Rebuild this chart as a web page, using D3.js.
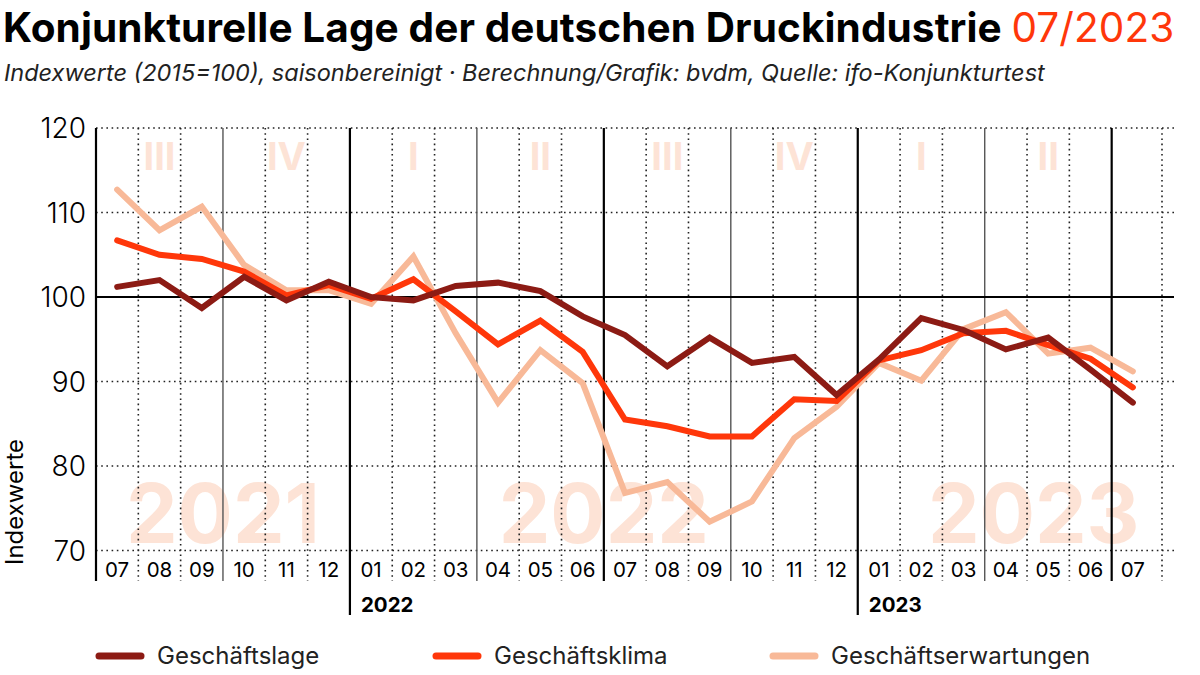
<!DOCTYPE html>
<html>
<head>
<meta charset="utf-8">
<style>
body { margin: 0; background: #fff; }
svg text { font-family: Inter, "Noto Sans", sans-serif; }
</style>
<script src="https://cdn.jsdelivr.net/npm/d3@7"></script>
</head>
<body>
<script>
// months 07/2021 .. 07/2023
var months = ["07","08","09","10","11","12","01","02","03","04","05","06","07","08","09","10","11","12","01","02","03","04","05","06","07"];
var lage       = [101.2,102.0,98.7,102.4,99.6,101.8,100.0,99.6,101.3,101.7,100.7,97.7,95.5,91.8,95.2,92.2,92.9,88.4,92.6,97.5,96.1,93.8,95.2,91.4,87.5];
var klima      = [106.7,105.0,104.5,103.0,100.2,101.4,99.8,102.1,98.3,94.4,97.2,93.5,85.5,84.7,83.5,83.5,87.9,87.7,92.5,93.7,95.7,96.0,94.3,92.7,89.3];
var erwartung  = [112.7,107.9,110.7,103.8,100.8,100.8,99.2,104.8,95.7,87.5,93.7,89.8,76.8,78.1,73.4,75.8,83.3,87.0,92.2,90.1,96.2,98.2,93.3,94.0,91.2];
var yTicks = [70, 80, 90, 100, 110, 120];
var quarterLabels = ["III","IV","I","II","III","IV","I","II"];
var yearMarks = [{label:"2022", start:6}, {label:"2023", start:18}];
var watermarks = [{label:"2021", from:0, to:6}, {label:"2022", from:6, to:18}, {label:"2023", from:18, to:26}];

var series = [
  {name:"Geschäftslage", values:lage, color:"#8c1b14"},
  {name:"Geschäftsklima", values:klima, color:"#ff370a"},
  {name:"Geschäftserwartungen", values:erwartung, color:"#f8b998"}
];

var width = 1200, height = 675;
var pLeft = 96, pRight = 1154, pTop = 128, pBottom = 550.5;

var svg = d3.select("body").append("svg")
  .attr("width", width)
  .attr("height", height);

// month slot scale, boundaries 0..25
var x = d3.scaleLinear().domain([0, months.length]).range([pLeft, pRight]);
var y = d3.scaleLinear().domain([70, 120]).range([pBottom, pTop]);
var gridRight = pRight + 20;
var vBottom = 581;

// title
var title = svg.append("text").attr("x", 3).attr("y", 42)
  .style("font-size", "40.5px").style("letter-spacing", "0.1px");
title.append("tspan").style("font-weight", "700").attr("fill", "#000")
  .text("Konjunkturelle Lage der deutschen Druckindustrie ");
title.append("tspan").style("font-weight", "400").attr("fill", "#ff370a").text("07/2023");

svg.append("text").attr("x", 4).attr("y", 81)
  .style("font-size", "23.5px").style("font-style", "italic").attr("fill", "#222")
  .text("Indexwerte (2015=100), saisonbereinigt · Berechnung/Grafik: bvdm, Quelle: ifo-Konjunkturtest");

// watermarks
svg.append("g").selectAll("text").data(watermarks).enter().append("text")
  .attr("x", function(d) { return d.label == "2023" ? x(d.from) + 176 : (x(d.from) + x(d.to)) / 2; })
  .attr("y", 543)
  .attr("text-anchor", "middle")
  .style("font-size", "82px").style("font-weight", "700")
  .attr("fill", "#fde3d6")
  .text(function(d) { return d.label; });

// quarter labels
svg.append("g").selectAll("text").data(quarterLabels).enter().append("text")
  .attr("x", function(d, i) { return x(i * 3 + 1.5); })
  .attr("y", 170)
  .attr("text-anchor", "middle")
  .style("font-size", "38px").style("font-weight", "700")
  .attr("fill", "#fde3d6")
  .text(function(d) { return d; });

// horizontal grid
svg.append("g").selectAll("line").data(yTicks.filter(function(t) { return t != 100; })).enter().append("line")
  .attr("x1", pLeft).attr("x2", gridRight)
  .attr("y1", function(d) { return y(d); }).attr("y2", function(d) { return y(d); })
  .attr("stroke", "#222").attr("stroke-width", 1.6).attr("stroke-dasharray", "1.6,3.6");

// vertical month lines
var bounds = d3.range(1, months.length);
svg.append("g").selectAll("line").data(bounds).enter().append("line")
  .attr("x1", function(d) { return x(d); }).attr("x2", function(d) { return x(d); })
  .attr("y1", pTop)
  .attr("y2", function(d) { return d % 12 == 6 ? 615 : vBottom; })
  .attr("stroke", function(d) { return d % 6 == 0 ? "#000" : (d % 3 == 0 ? "#555" : "#222"); })
  .attr("stroke-width", function(d) { return d % 6 == 0 ? 2.2 : (d % 3 == 0 ? 1.4 : 1.6); })
  .attr("stroke-dasharray", function(d) { return d % 3 == 0 ? null : "1.6,3.6"; });

// closing dotted line on the right
svg.append("line")
  .attr("x1", pRight + 8).attr("x2", pRight + 8)
  .attr("y1", pTop).attr("y2", vBottom)
  .attr("stroke", "#222").attr("stroke-width", 1.6).attr("stroke-dasharray", "1.6,3.6");

// 100 line and left axis
svg.append("line").attr("x1", pLeft).attr("x2", gridRight)
  .attr("y1", y(100)).attr("y2", y(100))
  .attr("stroke", "#000").attr("stroke-width", 2);
svg.append("line").attr("x1", pLeft).attr("x2", pLeft)
  .attr("y1", pTop).attr("y2", vBottom)
  .attr("stroke", "#000").attr("stroke-width", 2.2);

// y tick labels
svg.append("g").selectAll("text").data(yTicks).enter().append("text")
  .attr("x", 86).attr("y", function(d) { return y(d) + 10; })
  .attr("text-anchor", "end")
  .style("font-size", "28px").style("font-weight", "300").attr("fill", "#000")
  .text(function(d) { return d; });

svg.append("text")
  .attr("transform", "translate(23,502) rotate(-90)")
  .attr("text-anchor", "middle")
  .style("font-size", "24px").attr("fill", "#000")
  .text("Indexwerte");

// month labels
svg.append("g").selectAll("text").data(months).enter().append("text")
  .attr("x", function(d, i) { return x(i + 0.5); })
  .attr("y", 577)
  .attr("text-anchor", "middle")
  .style("font-size", "20.5px").attr("fill", "#000")
  .text(function(d) { return d; });

// year labels
svg.append("g").selectAll("text").data(yearMarks).enter().append("text")
  .attr("x", function(d) { return x(d.start) + 11; })
  .attr("y", 612)
  .style("font-size", "20.5px").style("font-weight", "700").attr("fill", "#000")
  .text(function(d) { return d.label; });

// lines
var line = d3.line()
  .x(function(d, i) { return x(i + 0.5); })
  .y(function(d) { return y(d); });

svg.append("g").selectAll("path").data(series.slice().reverse()).enter().append("path")
  .attr("d", function(d) { return line(d.values); })
  .attr("fill", "none")
  .attr("stroke", function(d) { return d.color; })
  .attr("stroke-width", 6)
  .attr("stroke-linejoin", "miter")
  .attr("stroke-linecap", "round");

// legend
var legendX = [96, 433, 770];
var lg = svg.append("g").selectAll("g").data(series).enter().append("g")
  .attr("transform", function(d, i) { return "translate(" + legendX[i] + ",656)"; });
lg.append("line").attr("x1", 3).attr("x2", 45)
  .attr("stroke", function(d) { return d.color; })
  .attr("stroke-width", 7).attr("stroke-linecap", "round");
lg.append("text").attr("x", 61).attr("y", 8)
  .style("font-size", "24px").attr("fill", "#222")
  .text(function(d) { return d.name; });
</script>
</body>
</html>
